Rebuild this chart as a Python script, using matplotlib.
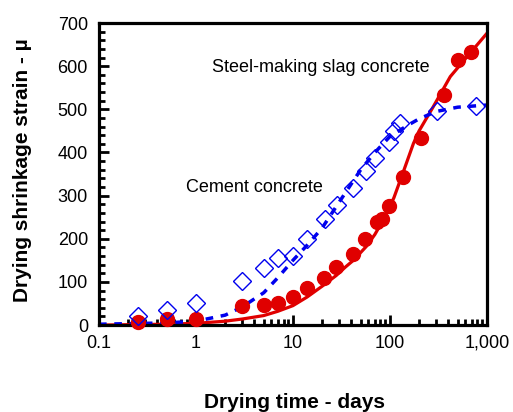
import matplotlib.pyplot as plt
from matplotlib.ticker import FixedLocator, FuncFormatter, LogLocator, MultipleLocator

plt.rcParams['font.family'] = ['Liberation Sans', 'DejaVu Sans']

# measured points
days = [0.25, 0.5, 1, 3, 5, 7, 10, 14, 21, 28, 42, 56, 74, 82, 98, 135, 207, 360, 500, 684]
slag = [8, 13, 15, 44, 46, 52, 66, 85, 108, 135, 165, 200, 240, 247, 277, 344, 434, 533, 614, 632]

days_c = [0.25, 0.5, 1, 3, 5, 7, 10, 14, 21.5, 28.7, 42, 56.5, 70, 98, 110, 126, 305, 780]
cement = [21, 36, 52, 102, 133, 155, 160, 199, 247, 278, 317, 357, 388, 424, 450, 468, 496, 508]

# fitted curves
fit_slag_x = [0.1, 0.5, 1, 2, 3, 5, 7, 10, 14, 20, 28, 35, 42, 57, 70, 85, 110, 140, 175, 200, 280, 420, 700, 1000]
fit_slag_y = [0, 2, 4, 9, 14, 22, 32, 45, 65, 90, 115, 135, 150, 182, 210, 243, 295, 360, 421, 450, 506, 576, 635, 676]

fit_cem_x = [0.1, 0.3, 0.5, 1, 2, 3, 5, 7, 10, 14, 20, 30, 50, 70, 100, 150, 200, 300, 500, 1000]
fit_cem_y = [2, 4, 5, 9, 23, 42, 75, 110, 150, 185, 225, 285, 360, 400, 437, 462, 478, 495, 505, 510]

fig = plt.figure(figsize=(5.13, 4.12), dpi=100)
ax = fig.add_axes([0.193, 0.211, 0.756, 0.733])

red = '#e00000'
blue = '#0000ee'

ax.plot(fit_slag_x, fit_slag_y, color=red, lw=2.3, zorder=2)
ax.plot(fit_cem_x, fit_cem_y, color=blue, lw=2.5, ls=(0, (2.2, 2.2)), zorder=2)
ax.plot(days, slag, 'o', color=red, ms=10, mec=red, zorder=3, clip_on=False)
ax.plot(days_c, cement, 'D', mfc='none', mec=blue, mew=1, ms=9, zorder=4, clip_on=False)

ax.set_xscale('log')
ax.set_xlim(0.1, 1000)
ax.set_ylim(0, 700)

ax.xaxis.set_major_locator(FixedLocator([0.1, 1, 10, 100, 1000]))
ax.xaxis.set_minor_locator(LogLocator(base=10, subs=range(2, 10)))
ax.xaxis.set_major_formatter(FuncFormatter(lambda v, p: '{:,}'.format(int(v)) if v >= 1 else '0.1'))
ax.yaxis.set_major_locator(MultipleLocator(100))
ax.yaxis.set_minor_locator(MultipleLocator(20))

ax.tick_params(which='both', direction='in', top=False, right=False, labelsize=13, width=2, color='black')
ax.tick_params(which='major', length=7)
ax.tick_params(which='minor', length=4)
ax.tick_params(axis='y', pad=8)
ax.tick_params(axis='x', pad=7)
for s in ax.spines.values():
    s.set_linewidth(2.3)

ax.text(1.46, 596, 'Steel-making slag concrete', fontsize=13, va='center', ha='left')
ax.text(0.79, 320, 'Cement concrete', fontsize=13, va='center', ha='left')

ax.set_xlabel('Drying time - days', fontsize=15, fontweight='bold')
ax.set_ylabel('Drying shrinkage strain - \u00b5', fontsize=15, fontweight='bold')
ax.xaxis.set_label_coords(0.505, -0.255)
ax.xaxis.label.set_va('center')
ax.yaxis.set_label_coords(-0.196, 0.513)
ax.yaxis.label.set_va('center')

fig.savefig('out.png', dpi=100)
